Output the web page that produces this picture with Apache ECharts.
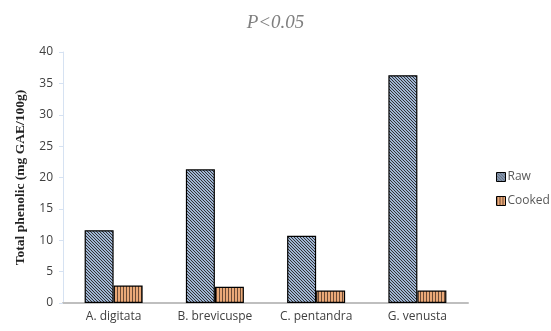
<!DOCTYPE html>
<html><head><meta charset="utf-8">
<script src="https://cdn.jsdelivr.net/npm/echarts@6/dist/echarts.min.js"></script>
<style>html,body{margin:0;padding:0;background:#fff}#c{width:551px;height:331px}</style>
</head><body><div id="c"></div>
<script>
const categories = ['A. digitata', 'B. brevicuspe', 'C. pentandra', 'G. venusta'];
const rawValues = [11.6, 21.3, 10.7, 36.3];
const cookedValues = [2.8, 2.6, 2.0, 2.0];
const yTicks = [0, 5, 10, 15, 20, 25, 30, 35, 40];

function makeRawPattern() {
  const c = document.createElement('canvas'); c.width = 3; c.height = 3;
  const g = c.getContext('2d');
  g.fillStyle = '#9fb6d6'; g.fillRect(0, 0, 3, 3);
  g.fillStyle = '#333333';
  for (let y = 0; y < 3; y++) for (let x = 0; x < 3; x++) {
    const d = ((x - y) % 3 + 3) % 3;
    if (d === 0) g.fillRect(x, y, 1, 1);
  }
  return c;
}
function makeCookedPattern() {
  const c = document.createElement('canvas'); c.width = 3; c.height = 3;
  const g = c.getContext('2d');
  g.fillStyle = '#eaa978'; g.fillRect(0, 0, 3, 3);
  g.fillStyle = '#6a4a35'; g.fillRect(0, 0, 1, 3);
  return c;
}
const rawFill = { image: makeRawPattern(), repeat: 'repeat' };
const cookedFill = { image: makeCookedPattern(), repeat: 'repeat' };

const chart = echarts.init(document.getElementById('c'), null, { renderer: 'canvas' });
chart.setOption({
  animation: false,
  title: {
    text: 'P<0.05', left: 'center', top: 8,
    textStyle: { fontFamily: 'Liberation Serif', fontStyle: 'italic', fontWeight: 'normal', fontSize: 19, color: '#7f7f7f' }
  },
  legend: {
    orient: 'vertical', left: 491, top: 166, itemGap: 12, itemWidth: 9, itemHeight: 9,
    textStyle: { fontFamily: 'Open Sans', fontSize: 12, color: '#595959', padding: [0, 0, 0, -3] },
    data: [
      { name: 'Raw', icon: 'rect', itemStyle: { color: rawFill, borderColor: '#000', borderWidth: 1 } },
      { name: 'Cooked', icon: 'rect', itemStyle: { color: cookedFill, borderColor: '#000', borderWidth: 1 } }
    ]
  },
  grid: { left: 63, right: 83, top: 52, bottom: 28 },
  xAxis: {
    type: 'category', data: categories,
    axisLine: { show: true, lineStyle: { color: '#bfbfbf', width: 2 } },
    axisTick: { show: false },
    axisLabel: { fontFamily: 'Open Sans', fontSize: 12, color: '#404040', margin: 8 }
  },
  yAxis: {
    type: 'value', min: 0, max: 40, interval: 5,
    name: 'Total phenolic (mg GAE/100g)', nameLocation: 'middle', nameGap: 35,
    nameTextStyle: { fontFamily: 'Liberation Serif', fontWeight: 'bold', fontSize: 13.5, color: '#222' },
    axisLine: { show: true, lineStyle: { color: '#d6e2f2', width: 1 } },
    axisTick: { show: true, length: 4, lineStyle: { color: '#d6e2f2' } },
    splitLine: { show: false },
    axisLabel: { fontFamily: 'Open Sans', fontSize: 12, color: '#404040', margin: 10,
      formatter: v => yTicks.includes(v) ? String(v) : '' }
  },
  series: [
    { name: 'Raw', type: 'bar', data: rawValues, barWidth: 29, barGap: '0%',
      itemStyle: { color: rawFill, borderColor: '#000', borderWidth: 1.2 } },
    { name: 'Cooked', type: 'bar', data: cookedValues, barWidth: 29, barGap: '0%',
      itemStyle: { color: cookedFill, borderColor: '#000', borderWidth: 1.2 } }
  ]
});
</script></body></html>
